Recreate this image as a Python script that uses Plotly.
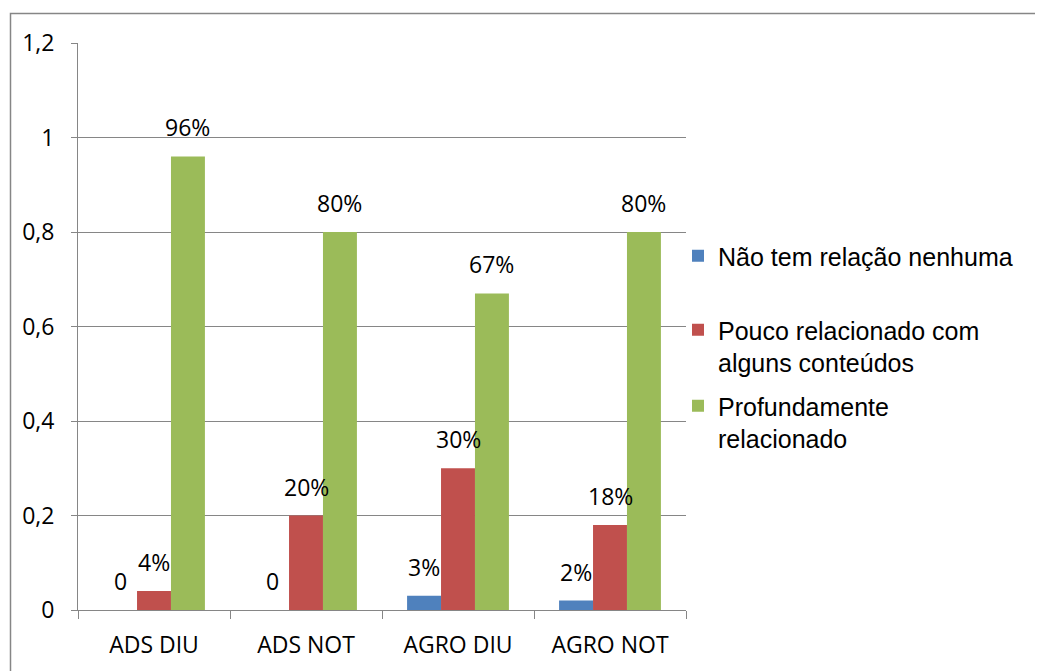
import plotly.graph_objects as go

categories = ["ADS DIU", "ADS NOT", "AGRO DIU", "AGRO NOT"]
series_names = [
    "Não tem relação nenhuma",
    "Pouco relacionado com<br>alguns conteúdos",
    "Profundamente<br>relacionado",
]
nao_tem = [0, 0, 0.03, 0.02]
pouco = [0.04, 0.20, 0.30, 0.18]
profundamente = [0.96, 0.80, 0.67, 0.80]
y_ticks = [0, 0.2, 0.4, 0.6, 0.8, 1.0, 1.2]

colors = ["#4F81BD", "#C0504D", "#9BBB59"]
values = [nao_tem, pouco, profundamente]

GRID = "#868686"
LABEL_FONT = dict(family="Open Sans", size=23, color="#000000")
LEGEND_FONT = dict(family="Liberation Sans", size=25, color="#000000")

bargap = 0.33
bw = (1 - bargap) / 3

fig = go.Figure()
legend_ids = ["legend", "legend2", "legend3"]
for k, (name, vals, col) in enumerate(zip(series_names, values, colors)):
    fig.add_trace(go.Bar(
        x=categories, y=vals, name=name,
        marker=dict(color=col, line=dict(width=0)),
        legend=legend_ids[k],
    ))

def fmt(v):
    return "0" if v == 0 else f"{round(v * 100)}%"

annotations = []
for k, vals in enumerate(values):
    off = (k - 1) * bw
    for i, v in enumerate(vals):
        annotations.append(dict(
            x=i + off, y=v, xref="x", yref="y",
            text=fmt(v), showarrow=False,
            yanchor="bottom", xanchor="center", yshift=11,
            font=LABEL_FONT,
        ))

# page offset (default body margin of the html page)
OFF = 8
W, H = 1043, 671
# desired plot-area edges in page pixels
L, R, T, B = 78, 686, 43, 610
pw, ph = R - L, B - T
ml, mt = L - OFF, T - OFF
mr, mb = W - (R - OFF), H - (B - OFF)

def px(xp):
    return (xp - L) / pw

def py(yp):
    return (B - yp) / ph

shapes = [dict(
    type="rect", xref="paper", yref="paper",
    x0=px(10.5), x1=px(1070), y0=py(13.5), y1=py(700),
    line=dict(color=GRID, width=1.5), fillcolor="rgba(0,0,0,0)", layer="above",
)]

legend_common = dict(
    xanchor="left", yanchor="middle", valign="top",
    font=LEGEND_FONT, bgcolor="rgba(0,0,0,0)", borderwidth=0,
    itemwidth=30, tracegroupgap=0, itemclick=False,
)
lx = px(678)
fig.update_layout(
    width=W, height=H,
    margin=dict(l=ml, r=mr, t=mt, b=mb, pad=0),
    paper_bgcolor="#FFFFFF", plot_bgcolor="#FFFFFF",
    separators=",.",
    barmode="group", bargap=bargap, bargroupgap=0,
    showlegend=True,
    legend=dict(x=lx, y=py(256), **legend_common),
    legend2=dict(x=lx, y=py(346), **legend_common),
    legend3=dict(x=lx, y=py(422), **legend_common),
    annotations=annotations,
    shapes=shapes,
    xaxis=dict(
        type="category", tickson="boundaries", ticks="outside", ticklen=8,
        tickcolor=GRID, tickwidth=1, showline=True, linecolor=GRID, linewidth=1,
        showgrid=False, tickfont=LABEL_FONT, zeroline=False,
        ticklabelstandoff=14,
    ),
    yaxis=dict(
        range=[0, 1.2], tickvals=y_ticks, ticks="outside", ticklen=6,
        tickcolor=GRID, tickwidth=1, showline=True, linecolor=GRID, linewidth=1,
        showgrid=True, gridcolor=GRID, gridwidth=1, zeroline=False,
        tickfont=LABEL_FONT, ticklabelstandoff=12,
    ),
)

fig.write_html("out.html")
